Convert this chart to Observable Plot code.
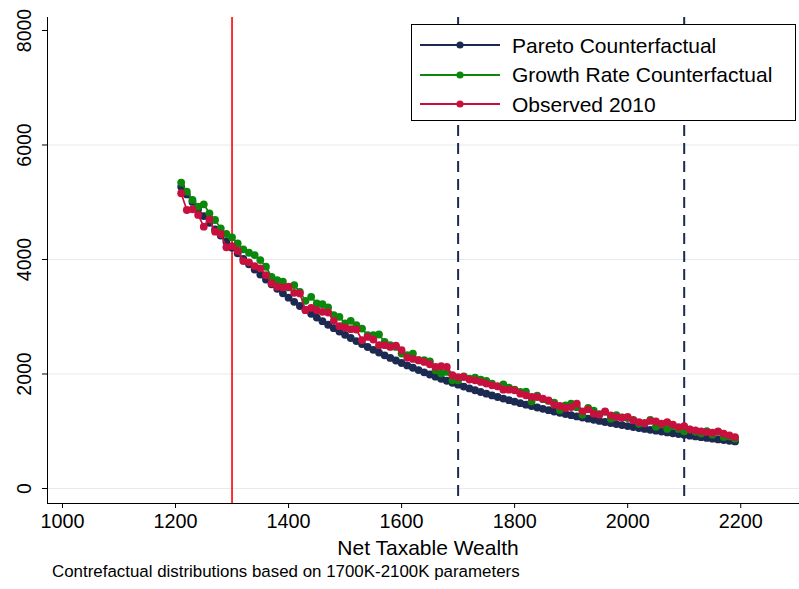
<!DOCTYPE html>
<html><head><meta charset="utf-8">
<script src="https://cdn.jsdelivr.net/npm/d3@7"></script>
<script src="https://cdn.jsdelivr.net/npm/@observablehq/plot@0.6"></script>
<style>
html,body{margin:0;padding:0;background:#fff;}
#wrap{position:relative;width:799px;height:589px;overflow:hidden;background:#fff;}
#wrap svg{position:absolute;left:0;top:0;}
.abs{position:absolute;white-space:nowrap;color:#000;line-height:1;}
#legend{position:absolute;left:411px;top:24px;width:385px;height:97px;border:1px solid #000;background:#fff;box-sizing:border-box;}
</style></head><body><div id="wrap"></div>
<script>
// ---- data ----
const wealth = [1210,1220,1230,1240,1250,1260,1270,1280,1290,1300,
  1310,1320,1330,1340,1350,1360,1370,1380,1390,1400,
  1410,1420,1430,1440,1450,1460,1470,1480,1490,1500,
  1510,1520,1530,1540,1550,1560,1570,1580,1590,1600,
  1610,1620,1630,1640,1650,1660,1670,1680,1690,1700,
  1710,1720,1730,1740,1750,1760,1770,1780,1790,1800,
  1810,1820,1830,1840,1850,1860,1870,1880,1890,1900,
  1910,1920,1930,1940,1950,1960,1970,1980,1990,2000,
  2010,2020,2030,2040,2050,2060,2070,2080,2090,2100,
  2110,2120,2130,2140,2150,2160,2170,2180,2190];
const pareto = [5270,5136,5006,4880,4758,4641,4527,4417,4310,4207,
  4107,4010,3916,3825,3737,3651,3568,3488,3410,3334,
  3260,3188,3119,3051,2986,2922,2860,2800,2741,2684,
  2629,2575,2523,2472,2422,2374,2327,2281,2236,2192,
  2150,2109,2068,2029,1991,1953,1917,1882,1847,1813,
  1780,1748,1716,1686,1656,1626,1598,1570,1543,1516,
  1490,1464,1440,1415,1391,1368,1345,1323,1301,1280,
  1259,1239,1219,1200,1180,1162,1143,1125,1108,1091,
  1074,1057,1041,1025,1010,995,980,965,951,937,
  923,909,896,883,870,858,846,834,822];
const growth = [5343,5186,5040,4923,4964,4807,4690,4544,4445,4387,
  4282,4177,4118,4078,3990,3873,3698,3640,3611,3512,
  3553,3436,3278,3348,3232,3220,3162,3028,2998,2882,
  2928,2853,2794,2678,2678,2690,2561,2503,2473,2357,
  2330,2357,2240,2240,2222,2065,2007,2036,1890,1890,
  1960,1920,1937,1902,1878,1832,1785,1820,1762,1727,
  1686,1690,1520,1620,1560,1530,1500,1370,1450,1480,
  1420,1290,1410,1360,1300,1340,1220,1280,1240,1230,
  1200,1130,1140,1200,1080,1120,1040,1090,1040,1000,
  1030,990,960,1000,940,990,900,910,870];
const observed = [5157,4865,4877,4778,4573,4702,4486,4445,4212,4235,
  4153,3973,3950,3885,3845,3728,3582,3524,3512,3524,
  3418,3407,3115,3156,3115,3086,3074,2928,2835,2812,
  2783,2777,2590,2648,2602,2503,2503,2473,2495,2415,
  2287,2263,2240,2211,2170,2123,2135,2123,1978,1945,
  1948,1902,1890,1861,1832,1803,1785,1727,1727,1715,
  1657,1628,1598,1598,1570,1540,1465,1441,1406,1423,
  1482,1348,1383,1307,1290,1348,1278,1248,1237,1250,
  1190,1161,1140,1180,1170,1132,1161,1114,1073,1091,
  1033,1015,998,986,974,998,957,928,898];
const seriesNames = ["Pareto Counterfactual","Growth Rate Counterfactual","Observed 2010"];
const seriesColors = ["#1c2a52","#0b870b","#c8103e"];
const xTicks = [1000,1200,1400,1600,1800,2000,2200];
const yTicks = [0,2000,4000,6000,8000];
const gridTicks = [0,2000,4000,6000];
const observedCut = [1300];
const paramCuts = [1700,2100];
const xTitle = "Net Taxable Wealth";
const caption = "Contrefactual distributions based on 1700K-2100K parameters";
const xDomain = [973.5, 2304];
const yDomain = [-262, 8227];

// ---- fonts ----
const FONT = '"Liberation Sans",Arial,sans-serif';
const legendFs = 21;
const xTickFs = 19.8;
const yTickFs = 19.5;
const titleFs = 21;
const capFs = 16.9;

// ---- table ----
const allSeries = [pareto, growth, observed];
const rows = allSeries.flatMap((vals, i) => wealth.map((w, j) => ({x: w, y: vals[j], s: seriesNames[i]})));

const seriesMarks = seriesNames.flatMap((name, i) => {
  const d = rows.filter(r => r.s === name);
  return [
    Plot.line(d, {x: "x", y: "y", stroke: seriesColors[i], strokeWidth: 1.7}),
    Plot.dot(d, {x: "x", y: "y", fill: seriesColors[i], r: 3.9, stroke: "none"})
  ];
});

const chart = Plot.plot({
  width: 799, height: 555,
  marginLeft: 47, marginRight: 0, marginTop: 17, marginBottom: 52,
  x: {domain: xDomain},
  y: {domain: yDomain},
  style: {fontFamily: FONT, background: "transparent", color: "#000"},
  marks: [
    Plot.ruleY(gridTicks, {stroke: "#e3ecee", strokeWidth: 1.2}),
    Plot.ruleX(observedCut, {stroke: "#ff0000", strokeWidth: 1.6}),
    Plot.ruleX(paramCuts, {stroke: "#1c2a52", strokeWidth: 2, strokeDasharray: "11,7"}),
    ...seriesMarks,
    Plot.ruleX([xDomain[0]], {stroke: "#000", strokeWidth: 1}),
    Plot.ruleY([yDomain[0]], {stroke: "#000", strokeWidth: 1}),
    Plot.axisX({ticks: xTicks, tickSize: 5, tickPadding: 5, fontSize: xTickFs, label: null, tickFormat: d => String(d)}),
    Plot.axisY({ticks: yTicks, tickSize: 5, tickFormat: () => "", label: null}),
    Plot.text(yTicks, {y: d => d, text: d => String(d), frameAnchor: "left", rotate: -90, dx: -23, fontSize: yTickFs, textAnchor: "middle", fill: "#000"})
  ]
});
const wrap = document.getElementById("wrap");
wrap.appendChild(chart);

// axis title and caption
function addText(txt, fs, left, centerY, anchorCenter){
  const el = document.createElement("div");
  el.className = "abs";
  el.textContent = txt;
  el.style.fontFamily = FONT;
  el.style.fontSize = fs + "px";
  el.style.top = (centerY - fs*0.5) + "px";
  el.style.left = left + "px";
  if (anchorCenter) el.style.transform = "translateX(-50%)";
  wrap.appendChild(el);
  return el;
}
addText(xTitle, titleFs, 428, 547, true);
addText(caption, capFs, 52, 572, false);

// legend
const lg = document.createElement("div");
lg.id = "legend";
wrap.appendChild(lg);
const rowY = [20, 49.7, 79.4];
seriesNames.forEach((name, i) => {
  const sw = document.createElementNS("http://www.w3.org/2000/svg", "svg");
  sw.setAttribute("width", 84); sw.setAttribute("height", 12);
  sw.style.position = "absolute"; sw.style.left = "7px"; sw.style.top = (rowY[i] - 6) + "px";
  sw.innerHTML = `<line x1="1" y1="6" x2="81" y2="6" stroke="${seriesColors[i]}" stroke-width="1.8"/><circle cx="41" cy="6" r="3.6" fill="${seriesColors[i]}"/>`;
  lg.appendChild(sw);
  const t = document.createElement("div");
  t.className = "abs";
  t.textContent = name;
  t.style.fontFamily = FONT;
  t.style.fontSize = legendFs + "px";
  t.style.left = "100px";
  t.style.top = (rowY[i] - legendFs*0.5) + "px";
  lg.appendChild(t);
});
</script></body></html>
